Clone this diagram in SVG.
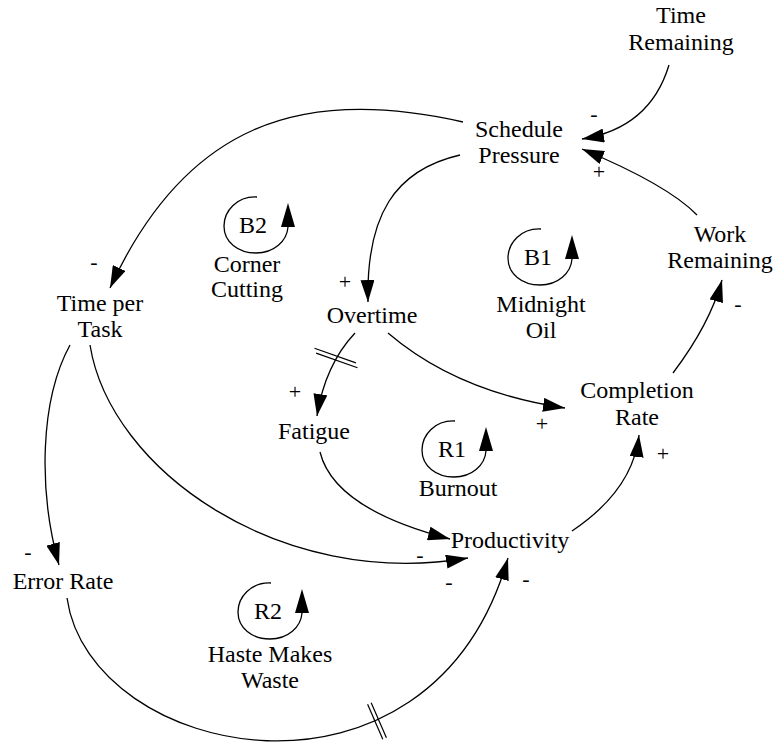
<svg xmlns="http://www.w3.org/2000/svg" xmlns:xlink="http://www.w3.org/1999/xlink" width="773" height="745" viewBox="0 0 773 745" font-family="'Liberation Serif', 'Times New Roman', serif">
<style>
text{font-family:"Liberation Serif","Times New Roman",serif;font-size:24px;fill:#000;text-anchor:middle}
text.s{font-size:22px}
.c{fill:none;stroke:#000;stroke-width:1.3}
.h{stroke:#000;stroke-width:1.2}
</style>
<defs>
<marker id="ah" markerWidth="22" markerHeight="14" refX="22" refY="7" orient="auto" markerUnits="userSpaceOnUse"><path d="M0,0 L22,7 L0,14 z" fill="#000"/></marker>
<g id="loop"><path class="c" d="M3,-28 C-17,-29 -30,-14 -30,1 C-30,17 -16,28 2,28 C20,28 33,16 34,2"/><polygon points="34,-22 27,2 41,2" fill="#000"/></g>
</defs>
<rect width="773" height="745" fill="#fff"/>
<g id="connectors">
<path class="c" marker-end="url(#ah)" d="M669,65 Q650,128 582,139"/>
<path class="c" marker-end="url(#ah)" d="M697,215 Q668,185 582,149"/>
<path class="c" marker-end="url(#ah)" d="M463,122 C300,85 185,125 110,288"/>
<path class="c" marker-end="url(#ah)" d="M460,155 C395,170 366,215 368,302"/>
<path class="c" marker-end="url(#ah)" d="M355,333 Q325,365 317,416"/>
<path class="c" marker-end="url(#ah)" d="M388,333 Q457,392 565,408"/>
<path class="c" marker-end="url(#ah)" d="M320,452 Q334,509 450,539"/>
<path class="c" marker-end="url(#ah)" d="M90,345 C110,470 280,590 468,558"/>
<path class="c" marker-end="url(#ah)" d="M70,345 C40,400 38,490 59,565"/>
<path class="c" marker-end="url(#ah)" d="M67,598 C90,760 430,830 508,558"/>
<path class="c" marker-end="url(#ah)" d="M572,531 Q633,490 639,435"/>
<path class="c" marker-end="url(#ah)" d="M673,373 Q710,324 722,280"/>
<line class="h" x1="314.5" y1="348.3" x2="355.9" y2="362.9"/>
<line class="h" x1="316.1" y1="353.1" x2="357.5" y2="367.7"/>
<line class="h" x1="367.6" y1="704.3" x2="382.8" y2="739.3"/>
<line class="h" x1="371.2" y1="702.7" x2="386.4" y2="737.7"/>
<text class="s" x="594" y="121">-</text>
<text class="s" x="599" y="179">+</text>
<text class="s" x="94" y="269">-</text>
<text class="s" x="345" y="289">+</text>
<text class="s" x="295" y="399">+</text>
<text class="s" x="542" y="431">+</text>
<text class="s" x="738" y="311">-</text>
<text class="s" x="663" y="461">+</text>
<text class="s" x="420" y="562">-</text>
<text class="s" x="449" y="589">-</text>
<text class="s" x="526" y="586">-</text>
<text class="s" x="28" y="559">-</text>
</g>
<g id="time-remaining"><text x="681" y="23">Time</text><text x="681" y="50">Remaining</text></g>
<g id="schedule-pressure"><text x="519" y="137">Schedule</text><text x="519" y="163">Pressure</text></g>
<g id="work-remaining"><text x="720" y="242">Work</text><text x="720" y="268">Remaining</text></g>
<g id="time-per-task"><text x="100" y="311">Time per</text><text x="100" y="337">Task</text></g>
<g id="overtime"><text x="372" y="323">Overtime</text></g>
<g id="completion-rate"><text x="637" y="398">Completion</text><text x="637" y="425">Rate</text></g>
<g id="fatigue"><text x="314" y="439">Fatigue</text></g>
<g id="productivity"><text x="510" y="548">Productivity</text></g>
<g id="error-rate"><text x="63" y="589">Error Rate</text></g>
<g id="loop-b2"><use xlink:href="#loop" href="#loop" x="254" y="225"/><text x="253" y="233">B2</text><text x="247" y="272">Corner</text><text x="247" y="297">Cutting</text></g>
<g id="loop-b1"><use xlink:href="#loop" href="#loop" x="538" y="257"/><text x="538" y="265">B1</text><text x="541" y="312">Midnight</text><text x="541" y="338">Oil</text></g>
<g id="loop-r1"><use xlink:href="#loop" href="#loop" x="452" y="449"/><text x="452" y="457">R1</text><text x="458" y="496">Burnout</text></g>
<g id="loop-r2"><use xlink:href="#loop" href="#loop" x="268" y="611"/><text x="268" y="619">R2</text><text x="270" y="662">Haste Makes</text><text x="270" y="688">Waste</text></g>
</svg>
